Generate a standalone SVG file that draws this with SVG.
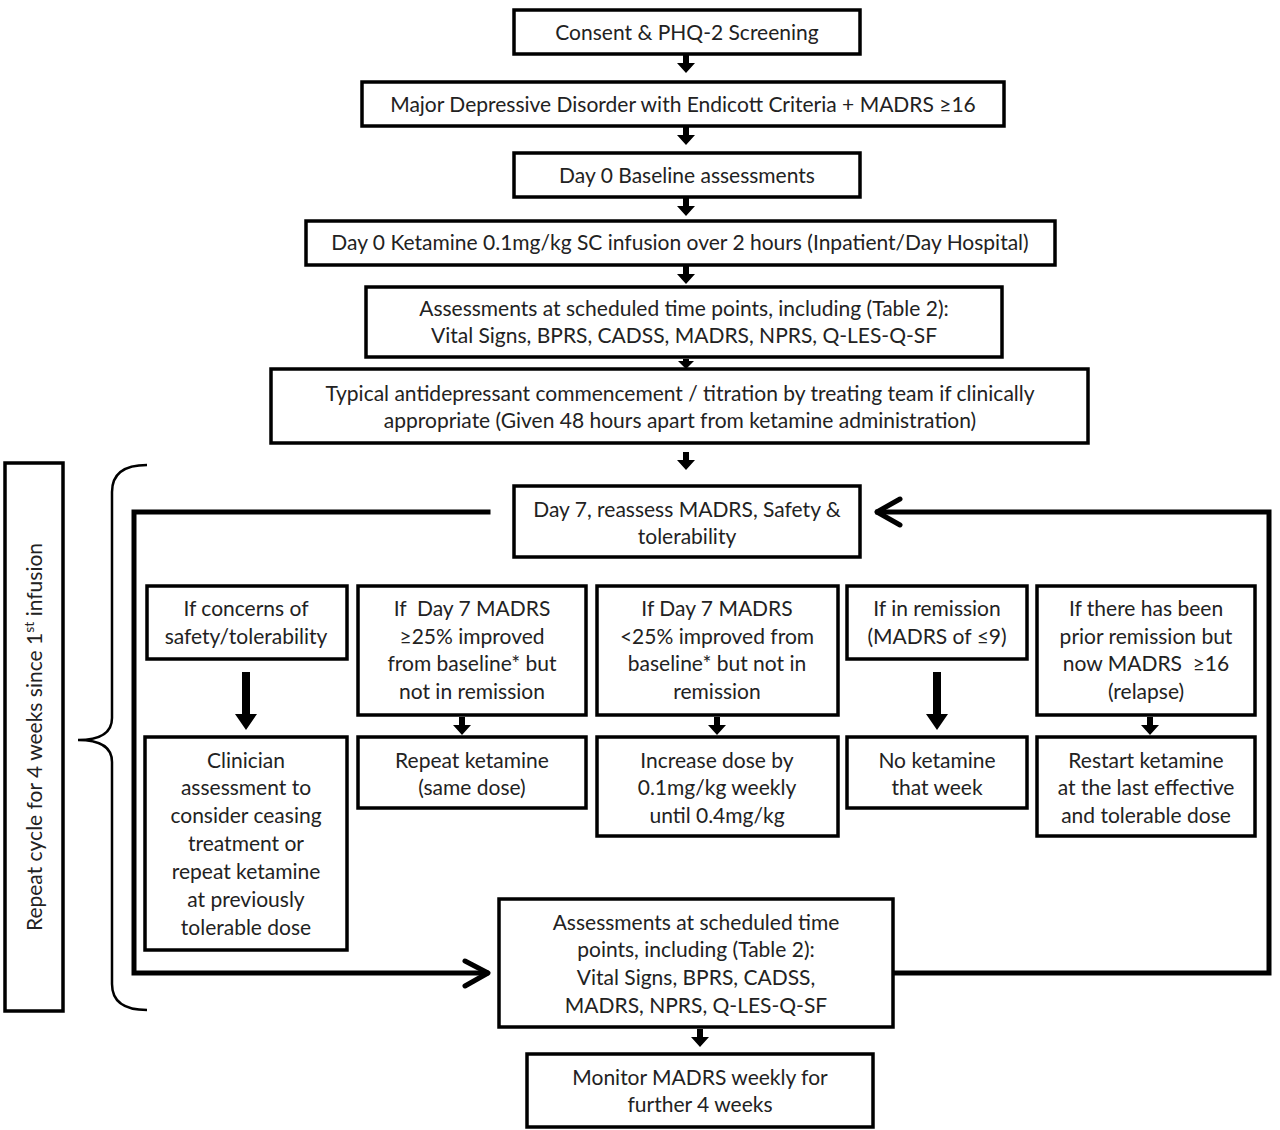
<svg xmlns="http://www.w3.org/2000/svg" width="1280" height="1130" viewBox="0 0 1280 1130">
<style>
.box{fill:#fff;stroke:#000;stroke-width:3.5}
.t{font-family:Lato,"Open Sans",sans-serif;font-size:21px;fill:#222;text-anchor:middle}
.pre{white-space:pre}
.ln{fill:none;stroke:#000;stroke-width:5;stroke-linecap:square}
.chev{fill:none;stroke:#000;stroke-width:5;stroke-linecap:round;stroke-linejoin:round}
.ar{fill:#000}
.brace{fill:none;stroke:#000;stroke-width:2.5}
</style>
<rect width="1280" height="1130" fill="#fff"/>
<defs>
<path id="sa" d="M-3,0 H3 V8 H9 L0,18 L-9,8 H-3 Z"/>
<path id="ta" d="M-3,0 H3 V2 H8 L0,10 L-8,2 H-3 Z"/>
<path id="la" d="M-4,0 H4 V42 H11 L0,58 L-11,42 H-4 Z"/>
</defs>

<g id="connectors">
<use href="#sa" class="ar" x="686" y="55"/>
<use href="#sa" class="ar" x="686" y="127"/>
<use href="#sa" class="ar" x="686" y="198"/>
<use href="#sa" class="ar" x="686" y="266"/>
<use href="#ta" class="ar" x="686" y="359"/>
<use href="#sa" class="ar" x="686" y="452"/>
<use href="#la" class="ar" x="246" y="672"/>
<use href="#sa" class="ar" x="462" y="717"/>
<use href="#sa" class="ar" x="717" y="717"/>
<use href="#la" class="ar" x="937" y="672"/>
<use href="#sa" class="ar" x="1150" y="717"/>
<use href="#sa" class="ar" x="700" y="1029"/>
<polyline class="ln" points="488,512 134,512 134,973 486,973"/>
<polyline class="chev" points="465,961 488,973 465,986"/>
<polyline class="ln" points="895,973 1269,973 1269,512 878,512"/>
<polyline class="chev" points="900,499 877,512 900,525"/>
<path class="brace" d="M147,465 Q112,465 112,492 L112,718 Q112,740 78,740 Q112,740 112,762 L112,984 Q112,1010 147,1010"/>
</g>

<g id="n1"><rect class="box" x="514" y="10" width="346" height="44"/><text class="t" x="687" y="40">Consent &amp; PHQ-2 Screening</text></g>
<g id="n2"><rect class="box" x="362" y="82" width="642" height="44"/><text class="t" x="683" y="112">Major Depressive Disorder with Endicott Criteria + MADRS ≥16</text></g>
<g id="n3"><rect class="box" x="514" y="153" width="346" height="44"/><text class="t" x="687" y="183">Day 0 Baseline assessments</text></g>
<g id="n4"><rect class="box" x="306" y="221" width="749" height="44"/><text class="t" x="680" y="250">Day 0 Ketamine 0.1mg/kg SC infusion over 2 hours (Inpatient/Day Hospital)</text></g>
<g id="n5"><rect class="box" x="366" y="287" width="636" height="70"/><text class="t" x="684" y="316">Assessments at scheduled time points, including (Table 2):</text><text class="t" x="684" y="343">Vital Signs, BPRS, CADSS, MADRS, NPRS, Q-LES-Q-SF</text></g>
<g id="n6"><rect class="box" x="271" y="369" width="817" height="74"/><text class="t" x="680" y="401">Typical antidepressant commencement / titration by treating team if clinically</text><text class="t" x="680" y="428">appropriate (Given 48 hours apart from ketamine administration)</text></g>
<g id="n7"><rect class="box" x="514" y="486" width="346" height="71"/><text class="t" x="687" y="517">Day 7, reassess MADRS, Safety &amp;</text><text class="t" x="687" y="544">tolerability</text></g>

<g id="a1"><rect class="box" x="147" y="586" width="200" height="73"/><text class="t" x="246" y="616">If concerns of</text><text class="t" x="246" y="644">safety/tolerability</text></g>
<g id="b1"><rect class="box" x="358" y="586" width="228" height="129"/><text class="t pre" x="472" y="616">If  Day 7 MADRS</text><text class="t" x="472" y="644">≥25% improved</text><text class="t" x="472" y="671">from baseline* but</text><text class="t" x="472" y="699">not in remission</text></g>
<g id="c1"><rect class="box" x="597" y="586" width="241" height="129"/><text class="t" x="717" y="616">If Day 7 MADRS</text><text class="t" x="717" y="644">&lt;25% improved from</text><text class="t" x="717" y="671">baseline* but not in</text><text class="t" x="717" y="699">remission</text></g>
<g id="d1"><rect class="box" x="847" y="586" width="180" height="73"/><text class="t" x="937" y="616">If in remission</text><text class="t" x="937" y="644">(MADRS of ≤9)</text></g>
<g id="e1"><rect class="box" x="1037" y="586" width="218" height="129"/><text class="t" x="1146" y="616">If there has been</text><text class="t" x="1146" y="644">prior remission but</text><text class="t pre" x="1146" y="671">now MADRS  ≥16</text><text class="t" x="1146" y="699">(relapse)</text></g>

<g id="a2"><rect class="box" x="145" y="737" width="202" height="213"/><text class="t" x="246" y="768">Clinician</text><text class="t" x="246" y="795">assessment to</text><text class="t" x="246" y="823">consider ceasing</text><text class="t" x="246" y="851">treatment or</text><text class="t" x="246" y="879">repeat ketamine</text><text class="t" x="246" y="907">at previously</text><text class="t" x="246" y="935">tolerable dose</text></g>
<g id="b2"><rect class="box" x="358" y="737" width="228" height="71"/><text class="t" x="472" y="768">Repeat ketamine</text><text class="t" x="472" y="795">(same dose)</text></g>
<g id="c2"><rect class="box" x="597" y="737" width="241" height="99"/><text class="t" x="717" y="768">Increase dose by</text><text class="t" x="717" y="795">0.1mg/kg weekly</text><text class="t" x="717" y="823">until 0.4mg/kg</text></g>
<g id="d2"><rect class="box" x="847" y="737" width="180" height="71"/><text class="t" x="937" y="768">No ketamine</text><text class="t" x="937" y="795">that week</text></g>
<g id="e2"><rect class="box" x="1037" y="737" width="218" height="99"/><text class="t" x="1146" y="768">Restart ketamine</text><text class="t" x="1146" y="795">at the last effective</text><text class="t" x="1146" y="823">and tolerable dose</text></g>

<g id="n8"><rect class="box" x="499" y="899" width="394" height="128"/><text class="t" x="696" y="930">Assessments at scheduled time</text><text class="t" x="696" y="957">points, including (Table 2):</text><text class="t" x="696" y="985">Vital Signs, BPRS, CADSS,</text><text class="t" x="696" y="1013">MADRS, NPRS, Q-LES-Q-SF</text></g>
<g id="n9"><rect class="box" x="527" y="1054" width="346" height="73"/><text class="t" x="700" y="1085">Monitor MADRS weekly for</text><text class="t" x="700" y="1112">further 4 weeks</text></g>

<g id="repeat"><rect class="box" x="5" y="463" width="58" height="548"/><text class="t" transform="translate(42,737) rotate(-90)" x="0" y="0">Repeat cycle for 4 weeks since 1<tspan font-size="14" dy="-8">st</tspan><tspan dy="8"> infusion</tspan></text></g>
</svg>
